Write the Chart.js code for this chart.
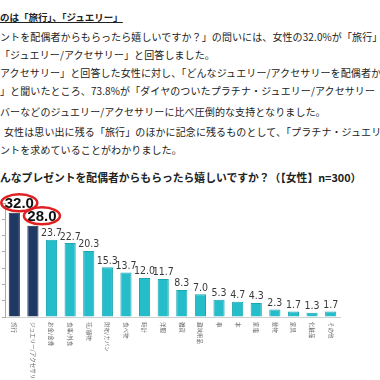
<!DOCTYPE html>
<html>
<head>
<meta charset="utf-8">
<script src="https://cdn.jsdelivr.net/npm/chart.js@4"></script>
<style>
  html, body { margin: 0; padding: 0; background: #fff; }
  body { width: 380px; height: 380px; overflow: hidden; position: relative;
         font-family: "Noto Sans CJK JP", sans-serif; color: #222; }
  .ln { position: absolute; left: 0; white-space: nowrap; font-size: 10px; line-height: 12px; letter-spacing: 0.1px; }
  .hd { font-weight: bold; font-size: 9.5px; letter-spacing: 0; text-decoration: underline; }
  .tt { font-weight: bold; font-size: 10.8px; letter-spacing: 0; }
  #wrap { position: absolute; left: 0; top: 190px; width: 380px; height: 190px; }
</style>
</head>
<body>
<div class="ln hd" style="top:11px">のは「旅行」、「ジュエリー」</div>
<div class="ln" style="top:31px">ントを配偶者からもらったら嬉しいですか？」の問いには、女性の32.0%が「旅行」</div>
<div class="ln" style="top:49px">「ジュエリー/アクセサリー」と回答しました。</div>
<div class="ln" style="top:67px">アクセサリー」と回答した女性に対し、「どんなジュエリー/アクセサリーを配偶者から</div>
<div class="ln" style="top:85px">」と聞いたところ、73.8%が「ダイヤのついたプラチナ・ジュエリー/アクセサリー</div>
<div class="ln" style="top:106px">バーなどのジュエリー/アクセサリーに比べ圧倒的な支持となりました。</div>
<div class="ln" style="top:126px;left:4px">女性は思い出に残る「旅行」のほかに記念に残るものとして、「プラチナ・ジュエリ</div>
<div class="ln" style="top:144px">ントを求めていることがわかりました。</div>
<div class="ln tt" style="top:171px">んなプレゼントを配偶者からもらったら嬉しいですか？（【女性】n=300）</div>
<div id="wrap"><canvas id="myChart" width="380" height="190"></canvas></div>
<script>
// data (% of women, n=300)
const categories = ["旅行", "ジュエリー/アクセサリー", "お金/金券", "食事/外食", "花/植物", "財布/カバン",
                    "食べ物", "時計", "洋服", "雑貨", "趣味用品", "車", "本", "家電", "動物", "家具", "化粧品", "その他"];
const values = [32.0, 28.0, 23.7, 22.7, 20.3, 15.3, 13.7, 12.0, 11.7, 8.3, 7.0, 5.3, 4.7, 4.3, 2.3, 1.7, 1.3, 1.7];
const circled = [0, 1];

const NAVY = "#1f3864";
const TEAL = "#25bdca";

// value labels, red circles and downward-reading category labels
const labelPlugin = {
    id: "labels",
    afterDatasetsDraw(chart) {
        const ctx = chart.ctx;
        const xs = chart.scales.x;
        const meta = chart.getDatasetMeta(0);
        ctx.save();
        meta.data.forEach((bar, i) => {
            const v = values[i].toFixed(1);
            if (circled.includes(i)) {
                const cx = bar.x + (i === 0 ? 5 : 9);
                const cy = bar.y - 10;
                ctx.font = "bold 15px 'Liberation Sans', sans-serif";
                ctx.fillStyle = "#111";
                ctx.textAlign = "center";
                ctx.textBaseline = "middle";
                ctx.fillText(v, cx, cy + 1);
                ctx.beginPath();
                ctx.ellipse(cx, cy, 18, 8.5, 0, 0, Math.PI * 2);
                ctx.strokeStyle = "#e02020";
                ctx.lineWidth = 2.5;
                ctx.stroke();
            } else {
                ctx.font = "10.5px 'DejaVu Sans Condensed', 'Liberation Sans', sans-serif";
                ctx.fillStyle = "#3a3a3a";
                ctx.textAlign = "center";
                ctx.textBaseline = "bottom";
                ctx.fillText(v, bar.x, bar.y - 1);
            }
        });
        ctx.font = "5.5px 'Noto Sans CJK JP', sans-serif";
        ctx.fillStyle = "#666";
        ctx.textAlign = "left";
        ctx.textBaseline = "middle";
        categories.forEach((c, i) => {
            ctx.save();
            ctx.translate(xs.getPixelForValue(i), xs.top + 5);
            ctx.rotate(Math.PI / 2);
            ctx.fillText(c, 0, 0);
            ctx.restore();
        });
        ctx.restore();
    }
};

const myChart = new Chart(document.getElementById("myChart"), {
    type: "bar",
    data: {
        labels: categories,
        datasets: [{
            data: values,
            backgroundColor: values.map((v, i) => circled.includes(i) ? NAVY : TEAL),
            borderColor: values.map((v, i) => circled.includes(i) ? "#18294a" : "#1aa6b3"),
            borderWidth: 1,
            barPercentage: 0.6,
            categoryPercentage: 1.0
        }]
    },
    options: {
        responsive: false,
        animation: false,
        layout: { padding: { top: 13, left: 2, right: 40, bottom: 0 } },
        plugins: { legend: { display: false }, tooltip: { enabled: false } },
        scales: {
            x: {
                grid: { display: false },
                border: { color: "#d0d0d0" },
                ticks: { display: false },
                afterFit: s => { s.height = 63; }
            },
            y: {
                min: 0,
                max: 35,
                grid: { drawOnChartArea: false, drawTicks: true, tickLength: 3, color: "#aaa" },
                border: { color: "#aaa" },
                ticks: { display: false, stepSize: 5 },
                afterFit: s => { s.width = 3; }
            }
        }
    },
    plugins: [labelPlugin]
});
</script>
</body>
</html>
